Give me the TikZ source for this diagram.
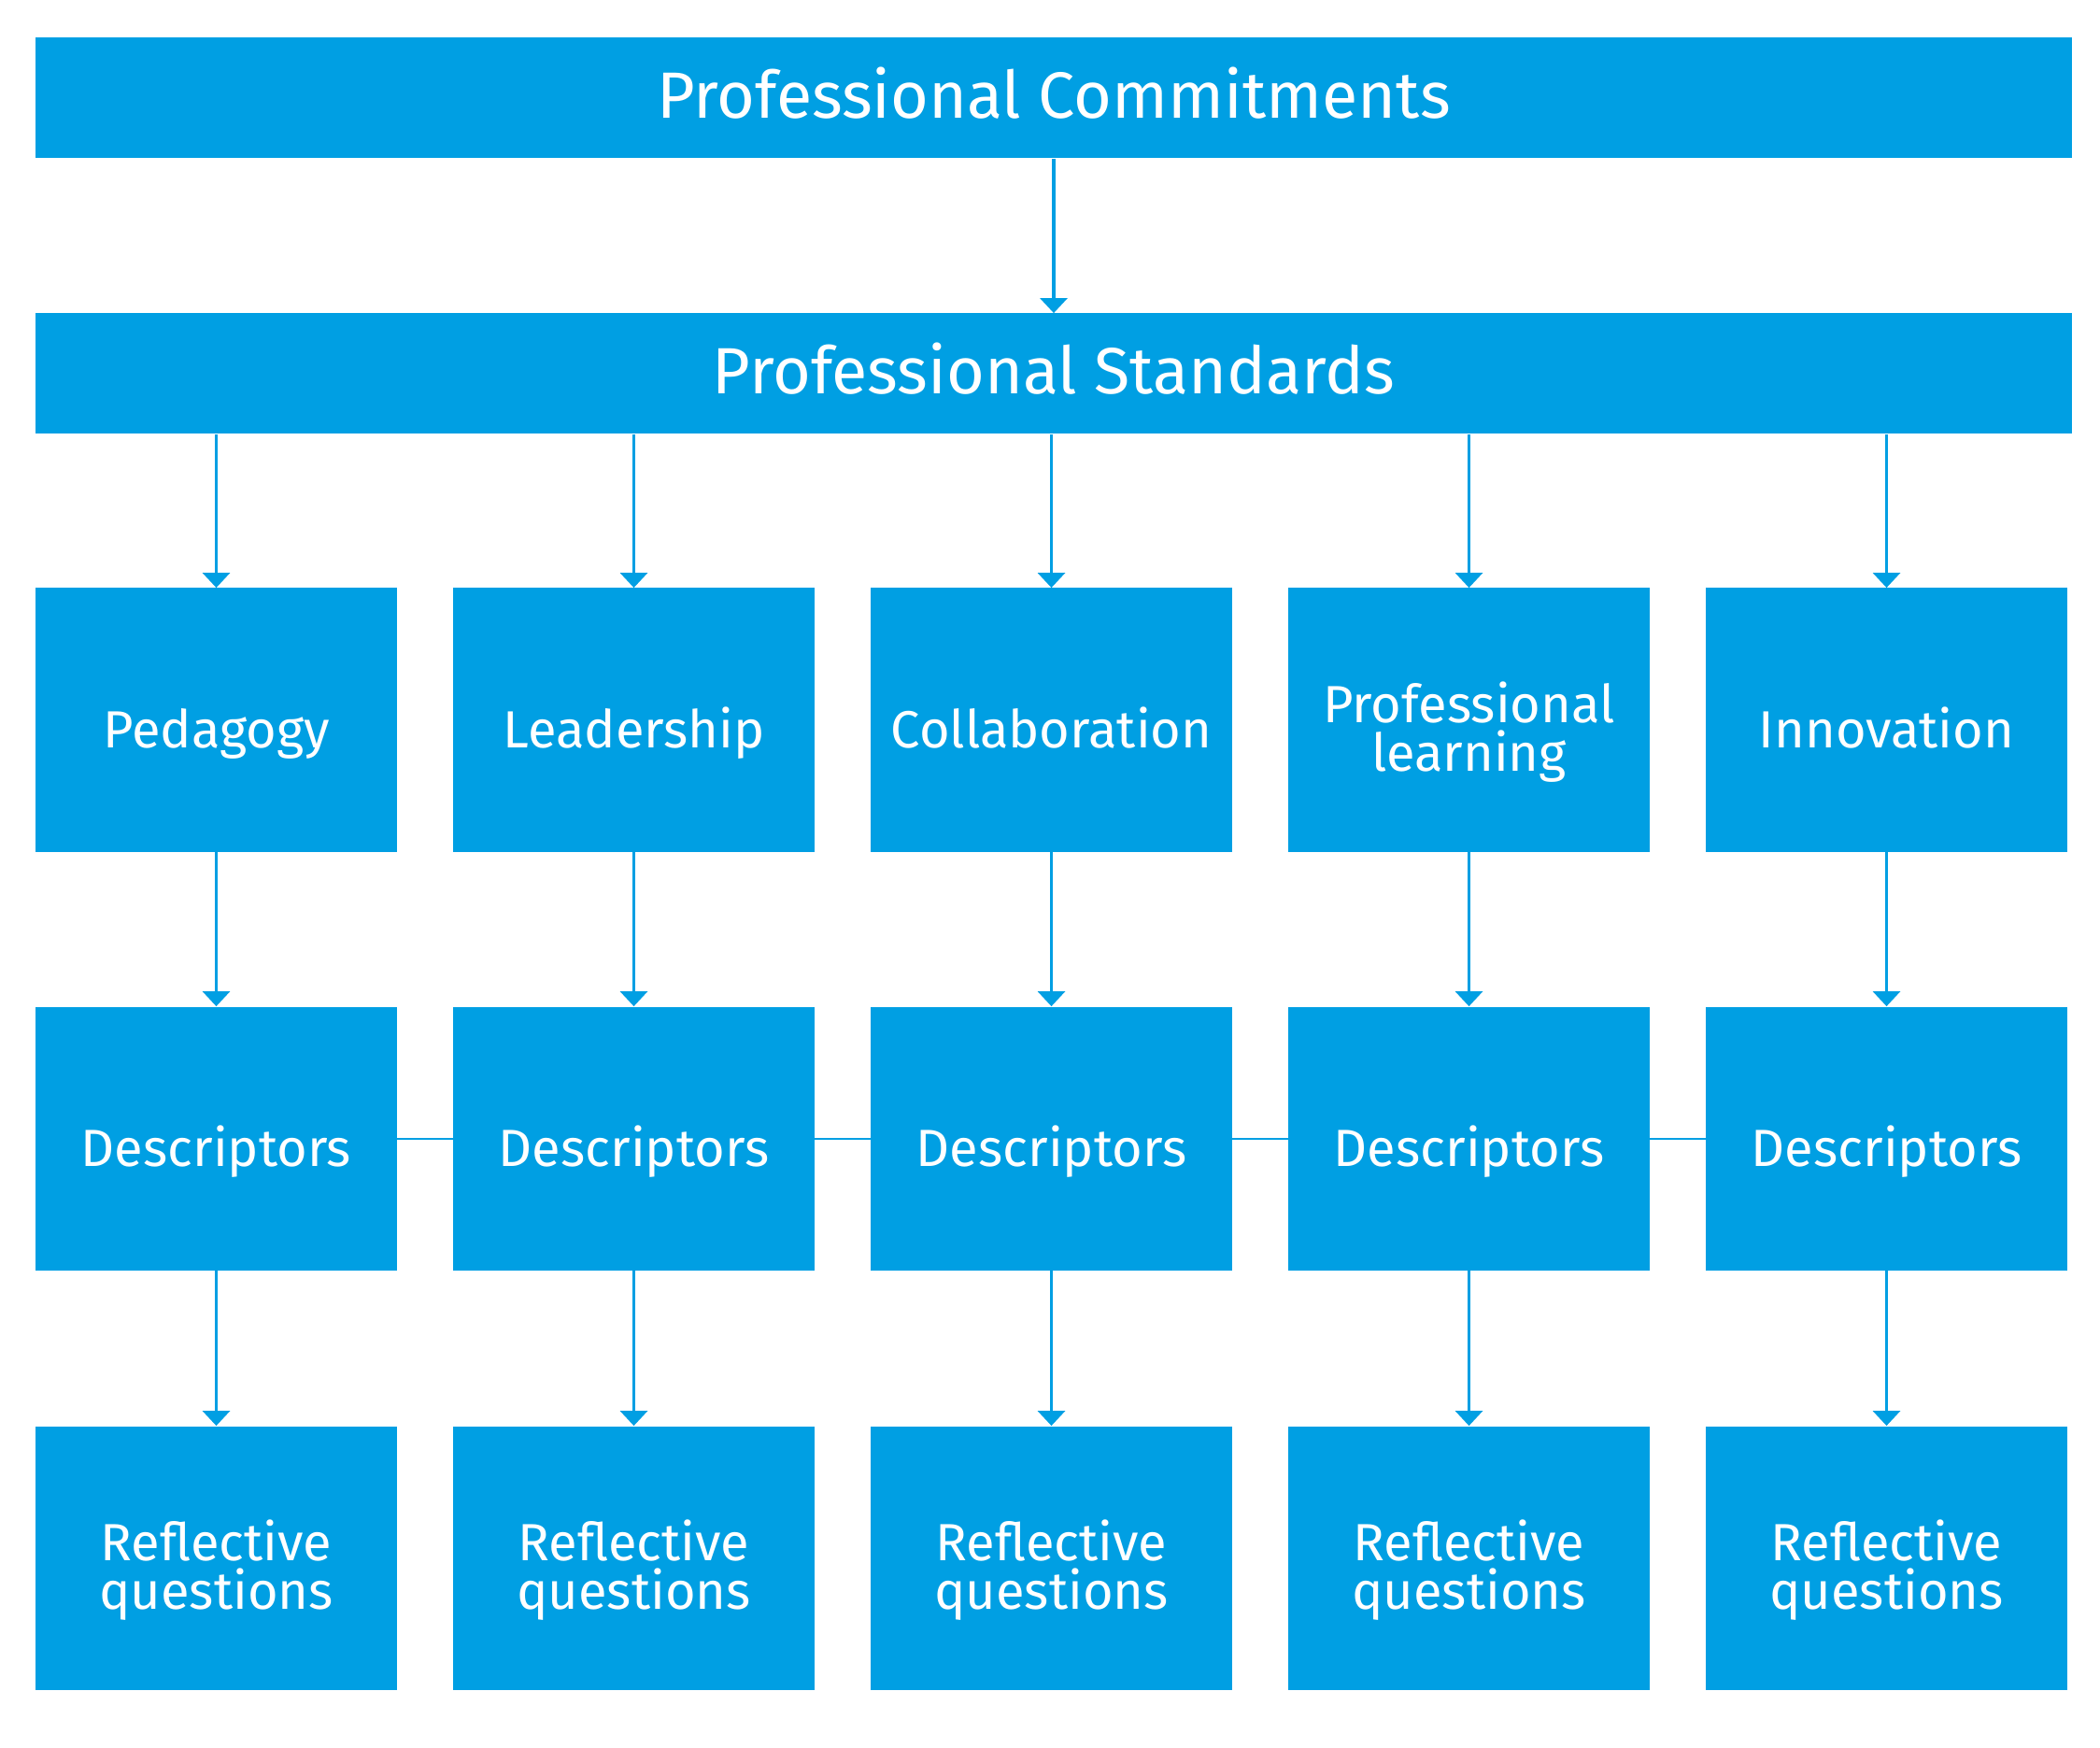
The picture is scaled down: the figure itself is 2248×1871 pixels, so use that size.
\documentclass[tikz,border=0pt]{standalone}
\usepackage{fontspec}
\setmainfont{Fira Sans}
\usetikzlibrary{arrows.meta}
\definecolor{stdblue}{HTML}{009FE3}

\begin{document}
\begin{tikzpicture}[x=0.5pt,y=-0.5pt,
	bar/.style={fill=stdblue,text=white,inner sep=0pt,font=\fontsize{35}{40}\selectfont,text height=21.7pt,text depth=0pt,minimum width=1090pt,minimum height=64.5pt},
	box/.style={fill=stdblue,text=white,inner sep=0pt,align=center,font=\fontsize{28}{26}\selectfont,text height=30pt,text depth=0pt,minimum width=193.5pt,minimum height=141pt},
	box2/.style={box,text height=55pt},
	arr/.style={stdblue,line width=1.6pt,-{Triangle[width=14.5pt,length=8pt]}},
	link/.style={stdblue,line width=1pt}]
		\useasboundingbox (0,0) rectangle (2248,1871);
		% bars
		\node[bar] (pc) at (1128,105) {Professional Commitments};
		\node[bar] (ps) at (1128,400) {Professional Standards};
		\draw[arr] (pc.south) -- (ps.north);
		% columns
		\foreach \n/\x/\t/\s in {1/231.5/Pedagogy/box,2/678.5/Leadership/box,3/1125.5/Collaboration/box,4/1572.5/{Professional\\learning}/box2,5/2019.5/Innovation/box}
		{\node[\s] (s\n) at (\x,770.5) {\t};
		\node[box] (d\n) at (\x,1218.5) {Descriptors};
		\node[box2] (q\n) at (\x,1667.5) {Reflective\\questions};
		\draw[arr] (s\n.north |- ps.south) -- (s\n.north);
		\draw[arr] (s\n.south) -- (d\n.north);
		\draw[arr] (d\n.south) -- (q\n.north);}
		% links
		\foreach \a/\b in {1/2,2/3,3/4,4/5}
		{\draw[link] (d\a.east) -- (d\b.west);}
	\end{tikzpicture}
\end{document}
